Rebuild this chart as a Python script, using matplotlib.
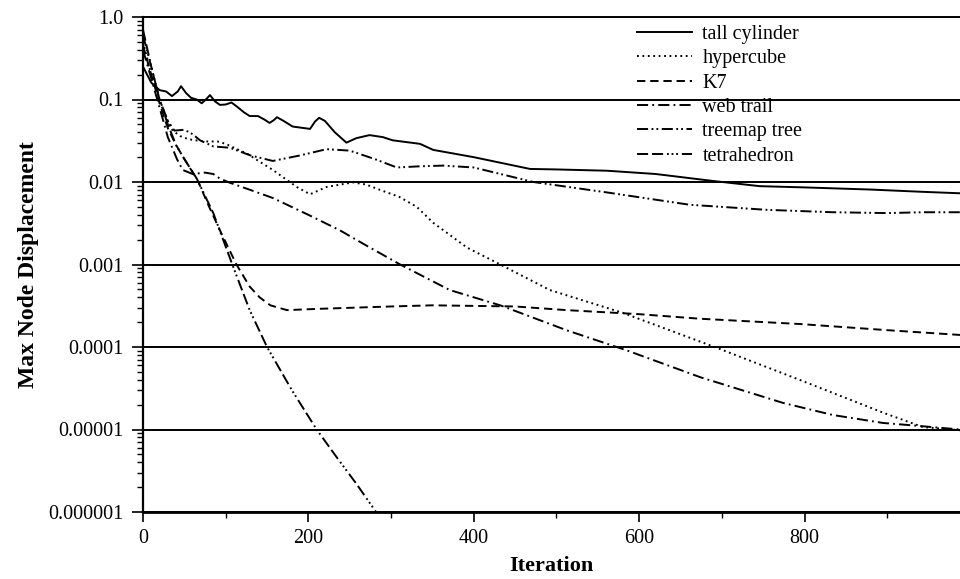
import matplotlib
matplotlib.use("Agg")
import matplotlib.pyplot as plt
from matplotlib.ticker import FixedLocator, FixedFormatter, NullFormatter, LogLocator

plt.rcParams['font.family'] = ['Liberation Serif', 'DejaVu Serif']
plt.rcParams['lines.scale_dashes'] = False

# ---- data ----
cyl_it = [0, 10, 20, 28, 35, 42, 46, 52, 58, 65, 71, 76, 81, 87, 93, 100, 107, 115, 122, 129,
          139, 147, 153, 158, 162, 170, 181, 195, 202, 208, 213, 220, 232, 246, 258, 274, 290,
          302, 335, 351, 400, 468, 500, 561, 620, 689, 746, 800, 880, 943, 988]
cyl_val = [0.25, 0.16, 0.13, 0.125, 0.11, 0.125, 0.145, 0.12, 0.105, 0.1, 0.09, 0.1, 0.113,
           0.095, 0.086, 0.087, 0.092, 0.08, 0.07, 0.063, 0.063, 0.057, 0.052, 0.056, 0.061,
           0.055, 0.047, 0.045, 0.044, 0.054, 0.06, 0.055, 0.04, 0.03, 0.034, 0.037, 0.035,
           0.032, 0.029, 0.0245, 0.02, 0.0144, 0.0142, 0.0137, 0.0125, 0.0103, 0.0089, 0.0086,
           0.0081, 0.0076, 0.0073]

hyp_it = [0, 10, 20, 30, 36, 45, 55, 73, 90, 100, 126, 157, 186, 202, 222, 254, 270, 287, 310,
          331, 351, 392, 432, 492, 580, 694, 794, 895, 943, 988]
hyp_val = [0.5, 0.2, 0.1, 0.055, 0.042, 0.036, 0.033, 0.031, 0.031, 0.029, 0.022, 0.014,
           0.0087, 0.0071, 0.0087, 0.0099, 0.0093, 0.008, 0.0066, 0.005, 0.0032, 0.0016, 0.001,
           0.00049, 0.00026, 0.0000977, 0.00004, 0.000016, 0.0000107, 0.0000098]

k7_it = [0, 10, 20, 30, 40, 50, 66, 80, 93, 113, 129, 141, 154, 174, 212, 300, 350, 450, 512,
         600, 674, 794, 900, 988]
k7_val = [0.45, 0.2, 0.09, 0.045, 0.028, 0.019, 0.0105, 0.005, 0.0026, 0.001, 0.00054, 0.0004,
          0.00032, 0.00028, 0.00029, 0.00031, 0.00032, 0.00031, 0.00028, 0.00025, 0.00022,
          0.00019, 0.00016, 0.00014]

web_it = [0, 10, 20, 30, 41, 48, 60, 75, 85, 93, 105, 130, 157, 200, 238, 270, 311, 371, 432,
          512, 585, 674, 774, 834, 895, 927, 988]
web_val = [0.4, 0.18, 0.08, 0.035, 0.019, 0.014, 0.0125, 0.013, 0.0125, 0.011, 0.0098, 0.008,
           0.0064, 0.004, 0.0026, 0.0017, 0.001, 0.00049, 0.00032, 0.00016, 0.000091, 0.000043,
           0.000021, 0.000015, 0.000012, 0.0000113, 0.00001]

tree_it = [0, 10, 20, 30, 38, 50, 60, 69, 85, 105, 130, 157, 190, 222, 250, 280, 307, 335, 363,
           400, 472, 560, 661, 754, 834, 900, 943, 988]
tree_val = [0.6, 0.25, 0.1, 0.055, 0.042, 0.043, 0.038, 0.032, 0.027, 0.026, 0.021, 0.018,
            0.021, 0.025, 0.024, 0.019, 0.015, 0.0155, 0.0158, 0.015, 0.01, 0.0075, 0.0053,
            0.0046, 0.0043, 0.0042, 0.0043, 0.0043]

tet_it = [0, 10, 20, 30, 40, 50, 65, 85, 108, 129, 150, 180, 210, 235, 258, 285]
tet_val = [0.7, 0.25, 0.1, 0.05, 0.028, 0.019, 0.011, 0.0042, 0.001, 0.00028, 0.0001, 0.00003,
           0.00001, 0.0000045, 0.0000022, 0.0000009]

series_names = ['tall cylinder', 'hypercube', 'K7', 'web trail', 'treemap tree', 'tetrahedron']

y_ticks = [1e-6, 1e-5, 1e-4, 1e-3, 1e-2, 1e-1, 1.0]
y_tick_labels = ['0.000001', '0.00001', '0.0001', '0.001', '0.01', '0.1', '1.0']
x_ticks = [0, 200, 400, 600, 800]
x_minor = [100, 300, 500, 700, 900]

# ---- figure ----
fig = plt.figure(figsize=(9.6, 5.79), dpi=100)
ax = fig.add_axes([143 / 960, 1 - 512 / 579, 1 - 143 / 960, (512 - 17) / 579])

styles = [
    '-',
    (0, (1.3, 2.6)),
    (0, (6, 3.5)),
    (0, (8, 3, 1.3, 3)),
    (0, (8, 2.5, 1.3, 2.2, 1.3, 2.5)),
    (0, (8, 2.8, 8, 2.8, 1.3, 2, 1.3, 2, 1.3, 2.8)),
]
data = [(cyl_it, cyl_val), (hyp_it, hyp_val), (k7_it, k7_val), (web_it, web_val),
        (tree_it, tree_val), (tet_it, tet_val)]

for ysv in y_ticks:
    ax.axhline(ysv, color='black', lw=1.4, zorder=1, clip_on=False)

for (xs, ys), name, ls in zip(data, series_names, styles):
    ax.plot(xs, ys, color='black', lw=1.4, linestyle=ls, label=name, zorder=3)

ax.set_yscale('log')
ax.set_ylim(1e-6, 1.0)
ax.set_xlim(0, 988)

ax.yaxis.set_major_locator(FixedLocator(y_ticks))
ax.yaxis.set_major_formatter(FixedFormatter(y_tick_labels))
ax.yaxis.set_minor_locator(LogLocator(base=10, subs=range(2, 10), numticks=20))
ax.yaxis.set_minor_formatter(NullFormatter())
ax.xaxis.set_major_locator(FixedLocator(x_ticks))
ax.xaxis.set_minor_locator(FixedLocator(x_minor))

ax.tick_params(axis='y', which='major', direction='out', length=8, width=1.2, labelsize=14.5, pad=6)
ax.tick_params(axis='y', which='minor', direction='out', length=4, width=1.0)
ax.tick_params(axis='x', which='major', direction='out', length=7, width=1.2, labelsize=14.5, pad=5)
ax.tick_params(axis='x', which='minor', direction='out', length=4, width=1.0)

for s in ['top', 'right']:
    ax.spines[s].set_visible(False)
ax.spines['left'].set_linewidth(1.6)
ax.spines['bottom'].set_linewidth(2.0)

ax.set_xlabel('Iteration', fontsize=16, fontweight='bold', labelpad=6)
ax.set_ylabel('Max Node Displacement', fontsize=17, fontweight='bold', labelpad=7)

leg = ax.legend(loc='upper left', bbox_to_anchor=(637 / 960, 1 - 25 / 579),
                bbox_transform=fig.transFigure, frameon=False, fontsize=14.5,
                handlelength=2.75, handletextpad=0.5, labelspacing=0.26,
                borderpad=0, borderaxespad=0)

fig.savefig('out.png', dpi=100)
